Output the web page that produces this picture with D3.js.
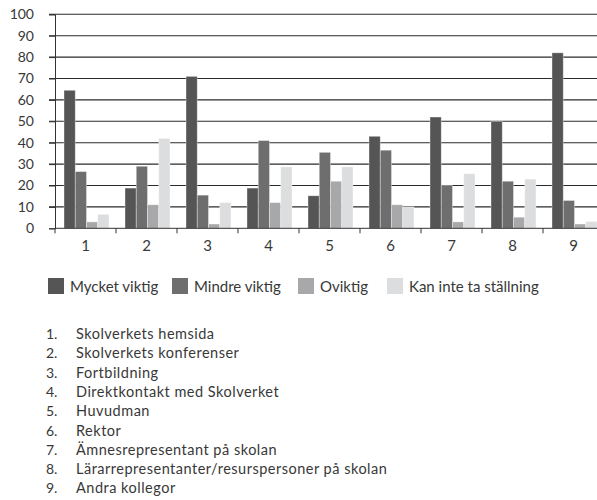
<!DOCTYPE html>
<html>
<head>
<meta charset="utf-8">
<script src="https://cdn.jsdelivr.net/npm/d3@7"></script>
<style>
    body { margin: 0; background: #fff; }
    svg text { font-family: Lato, "Open Sans", sans-serif; fill: #383838; }
</style>
</head>
<body>
<div id="graphDiv"></div>
<script>
// categories (numbered sources) and their names
var categories = ["1", "2", "3", "4", "5", "6", "7", "8", "9"];
var categoryNames = [
    "Skolverkets hemsida",
    "Skolverkets konferenser",
    "Fortbildning",
    "Direktkontakt med Skolverket",
    "Huvudman",
    "Rektor",
    "Ämnesrepresentant på skolan",
    "Lärarrepresentanter/resurspersoner på skolan",
    "Andra kollegor"
];

// series
var seriesNames = ["Mycket viktig", "Mindre viktig", "Oviktig", "Kan inte ta ställning"];
var mycketViktig = [64.5, 18.8, 71, 18.8, 15.2, 43, 52, 50, 82];
var mindreViktig = [26.5, 29, 15.5, 41, 35.5, 36.5, 20, 22, 13];
var oviktig = [3, 11, 2, 12, 22, 11, 3, 5.2, 2];
var kanInte = [6.5, 42, 12, 28.7, 28.7, 10, 25.5, 23, 3.2];

var yTicks = [0, 10, 20, 30, 40, 50, 60, 70, 80, 90, 100];

var colors = ["#555555", "#6e6e6e", "#a8a8aa", "#dcdddf"];

var W = 597, H = 500;
var svg = d3.select("#graphDiv").append("svg")
    .attr("width", W)
    .attr("height", H);

var allSeries = [mycketViktig, mindreViktig, oviktig, kanInte];

// scales
var xScale = d3.scaleBand()
    .domain(categories)
    .range([55, 55 + 61 * 9])
    .paddingInner(0)
    .paddingOuter(0);

var x1 = d3.scaleBand()
    .domain(d3.range(seriesNames.length))
    .range([9, 54]);

var yScale = d3.scaleLinear()
    .domain([0, 100])
    .range([228.3, 14.3]);

// grid lines
svg.append("g")
    .attr("class", "grid")
    .selectAll("line")
    .data(yTicks.filter(function (d) { return d > 0; }))
    .enter().append("line")
    .attr("x1", 49)
    .attr("x2", W)
    .attr("y1", function (d) { return yScale(d); })
    .attr("y2", function (d) { return yScale(d); })
    .attr("stroke", "#2a2a2a")
    .attr("stroke-width", 1.1);

// bars
var groups = svg.append("g").attr("class", "bars")
    .selectAll("g")
    .data(categories)
    .enter().append("g")
    .attr("transform", function (d) { return "translate(" + xScale(d) + ",0)"; });

groups.selectAll("rect")
    .data(function (d, i) {
        return allSeries.map(function (s, k) { return {k: k, v: s[i]}; });
    })
    .enter().append("rect")
    .attr("x", function (d) { return x1(d.k); })
    .attr("width", x1.bandwidth())
    .attr("y", function (d) { return yScale(d.v); })
    .attr("height", function (d) { return yScale(0) - yScale(d.v); })
    .attr("fill", function (d) { return colors[d.k]; })
    .attr("stroke", "rgba(255,255,255,0.45)")
    .attr("stroke-width", 0.8);

// y axis
var yAxis = d3.axisLeft(yScale)
    .tickValues(yTicks)
    .tickSize(6)
    .tickPadding(15);

var gy = svg.append("g")
    .attr("class", "y axis")
    .attr("transform", "translate(55,0)")
    .call(yAxis);
gy.select(".domain").attr("stroke", "#333");
gy.selectAll(".tick line").attr("stroke", "#333");
gy.selectAll(".tick text")
    .style("font-size", "14px");

// x axis, ticks sit on band edges
var xAxis = d3.axisBottom(xScale)
    .tickSize(0)
    .tickPadding(12);

var gx = svg.append("g")
    .attr("class", "x axis")
    .attr("transform", "translate(0," + yScale(0) + ")")
    .call(xAxis);
gx.select(".domain").remove();
gx.selectAll(".tick text")
    .style("font-size", "15px");

gx.append("line")
    .attr("x1", 55).attr("x2", W)
    .attr("y1", 0).attr("y2", 0)
    .attr("stroke", "#333");

gx.selectAll(".edge")
    .data(categories)
    .enter().append("line")
    .attr("class", "edge")
    .attr("x1", function (d) { return xScale(d); })
    .attr("x2", function (d) { return xScale(d); })
    .attr("y1", 0).attr("y2", 5)
    .attr("stroke", "#333");

// legend
var legendX = [48, 172, 298, 387];
var legend = svg.append("g").attr("class", "legend")
    .selectAll("g")
    .data(seriesNames)
    .enter().append("g")
    .attr("transform", function (d, i) { return "translate(" + legendX[i] + ",278)"; });
legend.append("rect")
    .attr("width", 16).attr("height", 16)
    .attr("fill", function (d, i) { return colors[i]; });
legend.append("text")
    .attr("x", 22)
    .attr("y", 13.5)
    .style("font-size", "15px")
    .text(function (d) { return d; });

// numbered list of categories
var list = svg.append("g").attr("class", "list")
    .selectAll("g")
    .data(categoryNames)
    .enter().append("g")
    .attr("transform", function (d, i) { return "translate(0," + (339 + i * 19.3) + ")"; });
list.append("text")
    .attr("x", 46)
    .style("font-size", "14px")
    .text(function (d, i) { return categories[i] + "."; });
list.append("text")
    .attr("x", 76)
    .style("font-size", "14.5px")
    .style("letter-spacing", "0.5px")
    .text(function (d) { return d; });
</script>
</body>
</html>
